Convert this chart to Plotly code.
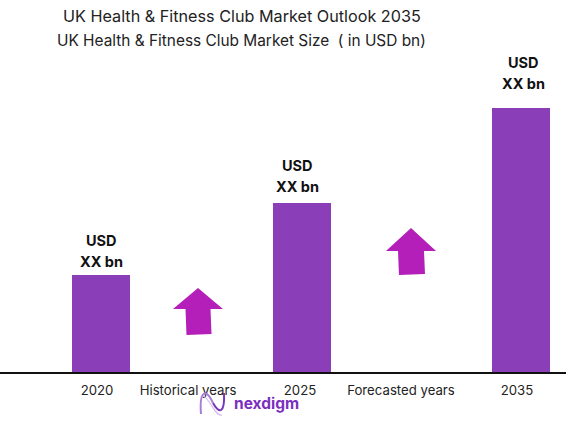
import plotly.graph_objects as go

years = ['2020', '2025', '2035']
market_size = [97, 169, 264]
bar_labels = ['USD<br>XX bn', 'USD<br>XX bn', 'USD<br>XX bn']
title_lines = ['UK Health & Fitness Club Market Outlook 2035',
               'UK Health & Fitness Club Market Size  ( in USD bn)']
period_labels = ['Historical years', 'Forecasted years']

W, H = 586, 426
BASE = 372
bar_x = [101, 302, 521]
tick_x = [97, 188, 300, 401, 517]
label_nudge = [0, -5, 2]
label_gap = [35, 38, 46]
font = 'Inter'

# pixel helpers, paper covers the whole page
def py(y):
    return H - y

fig = go.Figure()
fig.add_trace(go.Bar(x=bar_x, y=market_size, width=58, base=0,
                     marker=dict(color='#8a3fb8', line=dict(width=0)),
                     hoverinfo='skip'))

# USD / XX bn above each bar
for x, v, gap, nudge, lab in zip(bar_x, market_size, label_gap, label_nudge, bar_labels):
    top, bottom = lab.split('<br>')
    fig.add_annotation(x=x, y=v, yshift=gap, xshift=nudge, text='<b>' + top + '</b>', showarrow=False,
                       yanchor='middle', font=dict(family=font, size=14.5, color='#111111'))
    fig.add_annotation(x=x, y=v, yshift=gap - 21.5, xshift=nudge, text='<b>' + bottom + '</b>', showarrow=False,
                       yanchor='middle', font=dict(family=font, size=14.5, color='#111111'))

# two stacked titles
for txt, tx, ty, sz in zip(title_lines, [241.5, 241], [16, 40], [16.2, 15.4]):
    fig.add_annotation(xref='paper', yref='paper', x=tx / W, y=py(ty) / H, text=txt, showarrow=False,
                       xanchor='center', yanchor='middle', font=dict(family=font, size=sz, color='#222222'))

# block arrows
def arrow(cx, top, half, neck, shoulder, bottom):
    pts = [(cx, top), (cx + half, shoulder), (cx + neck, shoulder), (cx + neck + 1, bottom),
           (cx - neck + 1, bottom + 1), (cx - neck, shoulder), (cx - half, shoulder)]
    d = 'M' + ' L'.join('%g,%g' % (p[0] / W, py(p[1]) / H) for p in pts) + ' Z'
    return dict(type='path', xref='paper', yref='paper', path=d,
                fillcolor='#b31fb8', line=dict(width=0))

fig.update_layout(shapes=[arrow(198, 288, 25, 12.5, 309, 334), arrow(411, 228, 25, 13, 251, 274)])

# logo squiggle
def curve(points, color, width):
    d = 'M%g,%g C' % (points[0][0] / W, py(points[0][1]) / H)
    d += ' '.join('%g,%g' % (p[0] / W, py(p[1]) / H) for p in points[1:])
    return dict(type='path', xref='paper', yref='paper', path=d, line=dict(color=color, width=width))

fig.add_shape(curve([(201, 414), (199, 388), (207, 390), (213, 403)], '#a57fd8', 2))
fig.add_shape(curve([(213, 403), (219, 414), (225, 414), (224, 393)], '#7a35b8', 2))
fig.add_shape(curve([(203, 396), (210, 398), (215, 417), (222, 415)], '#d3bdec', 1.2))
fig.add_annotation(xref='paper', yref='paper', x=266 / W, y=py(403) / H, xanchor='center', yanchor='middle',
                   text='<b>nexdigm</b>', showarrow=False,
                   font=dict(family=font, size=15.5, color='#7b2fbf'))

fig.update_layout(
    width=W, height=H,
    margin=dict(l=0, r=0, t=0, b=0),
    plot_bgcolor='white', paper_bgcolor='white',
    showlegend=False,
    xaxis=dict(domain=[0, 566 / W], range=[0, 566], showgrid=False, zeroline=False,
               showline=True, linecolor='#111111', linewidth=2,
               tickmode='array', ticks='', ticklen=0, ticklabelstandoff=5,
               tickvals=tick_x,
               ticktext=[years[0], period_labels[0], years[1], period_labels[1], years[2]],
               tickfont=dict(family=font, size=13.2, color='#222222')),
    yaxis=dict(domain=[(H - BASE) / H, 1], range=[0, BASE], visible=False, showgrid=False, zeroline=False),
)

fig.write_html('out.html', config=dict(displayModeBar=False),
               post_script="document.body.style.margin='0';document.body.style.overflow='hidden';")
